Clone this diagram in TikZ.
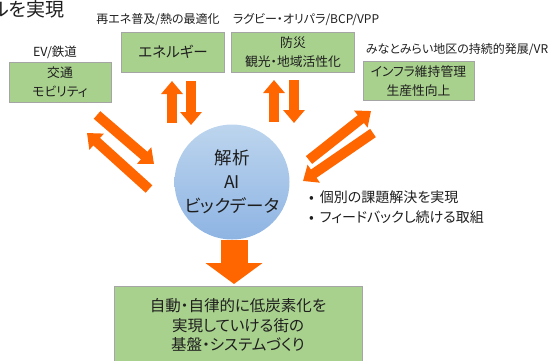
\documentclass[tikz,border=0pt]{standalone}
\usepackage{fontspec}
\setmainfont{Noto Sans CJK JP}[RawFeature={+palt}]
\usetikzlibrary{arrows.meta}
\definecolor{boxgreen}{HTML}{A9D18E}
\definecolor{boxedge}{HTML}{A5A5A5}
\definecolor{arroworange}{HTML}{FF6600}
\definecolor{txt}{HTML}{1E1E1E}
\definecolor{circtop}{HTML}{BDD5EE}
\definecolor{circbot}{HTML}{8EB4E3}
\tikzset{
  greenbox/.style={draw=boxedge, line width=0.8pt, fill=boxgreen, inner sep=0pt, align=center, text=txt},
  lbl/.style={inner sep=0pt, text=txt, font=\fontsize{12}{14}\selectfont},
  boxtext/.style={font=\fontsize{12.8}{19}\selectfont},
  smallarrow/.style={draw=arroworange, line width=10pt, line cap=butt, -{Triangle[width=21pt,length=13pt]}},
  bigarrow/.style={draw=arroworange, line width=27pt, line cap=butt, -{Triangle[width=56pt,length=21pt]}},
}
\begin{document}
\begin{tikzpicture}[x=1pt,y=-1pt]
\useasboundingbox (0,0) rectangle (553,360);
% title fragment
\node[anchor=west, inner sep=0pt, text=txt, font=\fontsize{19}{20}\selectfont] (title) at (-9,9) {ルを実現};

% boxes
\node[greenbox, minimum width=102pt, minimum height=40pt, boxtext] (traffic) at (60,82) {交通\\モビリティ};
\node[lbl, font=\fontsize{12.5}{14}\selectfont] (trafficl) at (55,52) {EV/鉄道};

\node[greenbox, minimum width=103pt, minimum height=40pt, font=\fontsize{14.5}{16}\selectfont] (energy) at (173,52) {エネルギー};
\node[lbl] (energyl) at (158,20) {再エネ普及/熱の最適化};

\node[greenbox, minimum width=123pt, minimum height=40pt, boxtext] (bousai) at (293,52) {防災\\観光・地域活性化};
\node[lbl] (bousail) at (306,20) {ラグビー・オリパラ/BCP/VPP};

\node[greenbox, minimum width=111pt, minimum height=39pt, boxtext] (infra) at (418.5,81) {インフラ維持管理\\生産性向上};
\node[lbl] (infral) at (457,50) {みなとみらい地区の持続的発展/VR};

% circle
\node[circle, minimum size=115pt, inner sep=0pt, top color=circtop, bottom color=circbot, align=center, text=txt, font=\fontsize{17.5}{24}\selectfont] (ai) at (232,182) {解析\\AI\\ビックデータ};

% bullets
\node[anchor=north west, inner sep=0pt, text=txt, font=\fontsize{14}{19.5}\selectfont, align=left] (bullets) at (309,191) {•\hspace{6pt}個別の課題解決を実現\\•\hspace{6pt}フィードバックし続ける取組};

% bottom box
\node[greenbox, anchor=north west, minimum width=248pt, minimum height=90pt] (base) at (114,286) {};
\node[text=txt, align=center, inner sep=0pt, font=\fontsize{15.5}{19.5}\selectfont] (basetext) at (238,325) {自動・自律的に低炭素化を\\実現していける街の\\基盤・システムづくり};

% arrow end points
\coordinate (e1s) at (172,123); \coordinate (e1e) at (172,81);
\coordinate (e2s) at (191,81);  \coordinate (e2e) at (191,125);
\coordinate (b1s) at (274,122); \coordinate (b1e) at (274,80);
\coordinate (b2s) at (294,80);  \coordinate (b2e) at (294,123);
\coordinate (t1s) at (97,115);  \coordinate (t1e) at (154,164);
\coordinate (t2s) at (149,189); \coordinate (t2e) at (87,133);
\coordinate (i1s) at (309,160); \coordinate (i1e) at (371,111);
\coordinate (i2s) at (373,133); \coordinate (i2e) at (303,181);
\coordinate (ds) at (234,240);  \coordinate (de) at (234,284);

\draw[smallarrow] (e1s) -- (e1e);
\draw[smallarrow] (e2s) -- (e2e);
\draw[smallarrow] (b1s) -- (b1e);
\draw[smallarrow] (b2s) -- (b2e);
\draw[smallarrow] (t1s) -- (t1e);
\draw[smallarrow] (t2s) -- (t2e);
\draw[smallarrow] (i1s) -- (i1e);
\draw[smallarrow] (i2s) -- (i2e);
\draw[bigarrow] (ds) -- (de);
\end{tikzpicture}
\end{document}
